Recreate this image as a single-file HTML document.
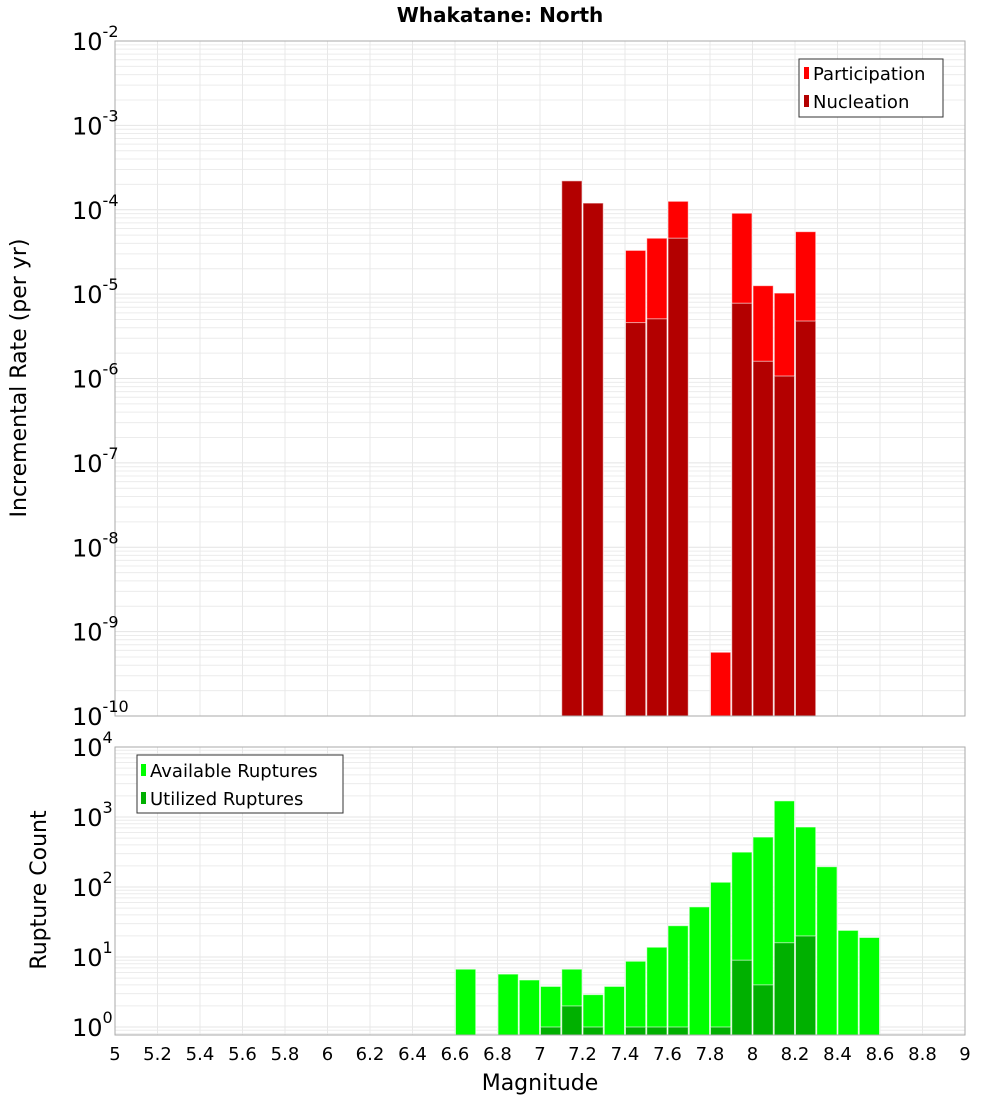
<!DOCTYPE html>
<html><head><meta charset="utf-8"><style>
body{margin:0;background:#fff;font-family:"DejaVu Sans","Liberation Sans",sans-serif}
svg text{font-family:"DejaVu Sans","Liberation Sans",sans-serif}
</style></head><body>
<svg id="c" width="1000" height="1100" xmlns="http://www.w3.org/2000/svg">
<text x="500" y="22" text-anchor="middle" font-size="20" font-weight="bold">Whakatane: North</text>
<g id="grid"></g><g id="bars"></g><g id="axes"></g>
<text transform="translate(26,378) rotate(-90)" text-anchor="middle" font-size="22">Incremental Rate (per yr)</text>
<text transform="translate(46,890) rotate(-90)" text-anchor="middle" font-size="22">Rupture Count</text>
<text x="540" y="1090" text-anchor="middle" font-size="22">Magnitude</text>
<g>
<rect x="799" y="59" width="144" height="58" fill="#fff" stroke="#333"/>
<rect x="804" y="67" width="5" height="12" fill="#ff0000"/>
<text x="813" y="80" font-size="18">Participation</text>
<rect x="804" y="95" width="5" height="12" fill="#b30000"/>
<text x="813" y="108" font-size="18">Nucleation</text>
</g>
<g>
<rect x="137" y="755" width="206" height="58" fill="#fff" stroke="#333"/>
<rect x="141" y="764" width="5" height="12" fill="#00ff00"/>
<text x="150" y="777" font-size="18">Available Ruptures</text>
<rect x="141" y="792" width="5" height="12" fill="#00b000"/>
<text x="150" y="805" font-size="18">Utilized Ruptures</text>
</g>
</svg>
<script>
const mags=[6.65,6.85,6.95,7.05,7.15,7.25,7.35,7.45,7.55,7.65,7.75,7.85,7.95,8.05,8.15,8.25,8.35,8.45,8.55];
const available=[6.7,5.7,4.7,3.8,6.7,2.9,3.8,8.7,13.8,28,52,117,315,517,1700,720,195,24,19];
const utilized=[0,0,0,1,2,1,0,1,1,1,0,1,9,4,16,20,0,0,0];
const rateMags=[7.15,7.25,7.45,7.55,7.65,7.85,7.95,8.05,8.15,8.25];
const participation=[2.2e-4,1.2e-4,3.3e-5,4.6e-5,1.26e-4,5.7e-10,9.1e-5,1.26e-5,1.03e-5,5.5e-5];
const nucleation=[2.2e-4,1.2e-4,4.6e-6,5.1e-6,4.6e-5,0,7.8e-6,1.6e-6,1.07e-6,4.8e-6];
const xTicks=[5,5.2,5.4,5.6,5.8,6,6.2,6.4,6.6,6.8,7,7.2,7.4,7.6,7.8,8,8.2,8.4,8.6,8.8,9];
const topExp=[-10,-9,-8,-7,-6,-5,-4,-3,-2];
const botExp=[0,1,2,3,4];

const NS="http://www.w3.org/2000/svg";
const L=115,R=965;
const X=m=>L+(m-5)*(R-L)/4;
const T={top:41,bot:716,min:-10,max:-2};
const B={top:747,bot:1035,min:-8/70,max:4};
const Y=(p,v)=>p.top+(p.max-Math.log10(v))*(p.bot-p.top)/(p.max-p.min);
function mk(par,tag,at){const e=document.createElementNS(NS,tag);for(const k in at)e.setAttribute(k,at[k]);document.getElementById(par).appendChild(e);return e;}
function grid(p){
  for(let d=Math.floor(p.min);d<p.max;d++)for(let k=1;k<10;k++){const v=k*Math.pow(10,d);const lv=Math.log10(v);if(lv<p.min||lv>p.max)continue;
    const y=Y(p,v);const g=mk('grid','line',{x1:L,x2:R,y1:y,y2:y,stroke:k==1?'#e4e4e4':'#ececec','stroke-width':1});
    
    }
  xTicks.forEach(t=>{const x=X(t);const g=mk('grid','line',{x1:x,x2:x,y1:p.top,y2:p.bot,stroke:'#e8e8e8'});
    
    });
  const r=mk('axes','rect',{x:L,y:p.top,width:R-L,height:p.bot-p.top,fill:'none',stroke:'#aaa'});
  
  
}
grid(T);grid(B);
function bar(m,v,p,col,name){if(!(v>0))return;const x0=X(m-0.05),x1=X(m+0.05);const y=Y(p,v);
  const r=mk('bars','rect',{x:x0+0.5,y:y,width:x1-x0-1,height:p.bot-y,fill:col,stroke:'#fff','stroke-opacity':0.6,'stroke-width':1});
  
  }
rateMags.forEach((m,i)=>bar(m,participation[i],T,'#ff0000','participation-bar'));
rateMags.forEach((m,i)=>bar(m,nucleation[i],T,'#b30000','nucleation-bar'));
mags.forEach((m,i)=>bar(m,available[i],B,'#00ff00','available-bar'));
mags.forEach((m,i)=>bar(m,utilized[i],B,'#00b000','utilized-bar'));
function ylab(p,e,name){const y=Y(p,Math.pow(10,e));
  const t=mk('axes','text',{x:104,y:y+9,'text-anchor':'end','font-size':24});
  
  
  t.innerHTML='10<tspan dy="-13" font-size="16">'+e+'</tspan>';
  t.setAttribute('x',72);t.setAttribute('text-anchor','start');}
topExp.forEach(e=>ylab(T,e,'top-y-tick-label'));
botExp.forEach(e=>ylab(B,e,'bottom-y-tick-label'));
xTicks.forEach(t=>{const e=mk('axes','text',{x:X(t),y:1060,'text-anchor':'middle','font-size':18});
  
  
  e.textContent=String(t);});
</script>
</body></html>
